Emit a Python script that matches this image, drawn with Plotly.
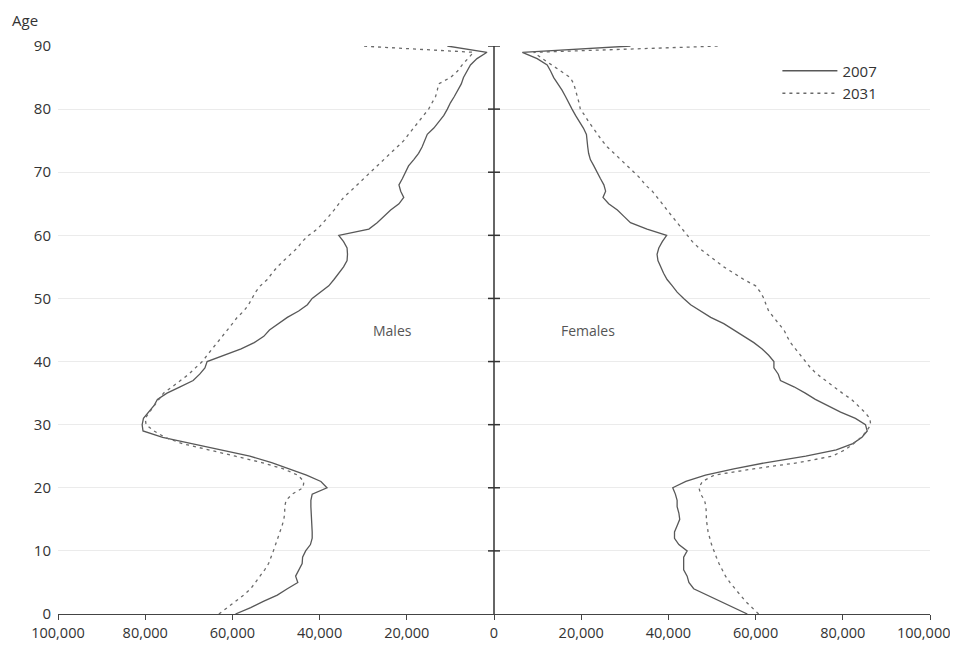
import numpy as np
import plotly.graph_objects as go

# ---------------- data (population in thousands, by single year of age) ----------------
ages = list(range(0, 91))

males_2007 = [59.3, 55.8, 52.9, 49.7, 47.4, 45.0, 45.5, 44.7, 44.0, 43.9,
              43.2, 42.1, 41.7, 41.7, 41.8, 41.9, 42.0, 42.0, 42.0, 41.7,
              38.3, 39.7, 43.0, 46.8, 51.0, 56.0, 62.5, 69.0, 76.0, 80.5,
              80.7, 80.4, 79.2, 78.0, 77.2, 75.0, 72.0, 69.0, 67.5, 66.3,
              65.8, 62.0, 58.0, 55.0, 52.8, 51.5, 49.5, 47.4, 44.8, 42.8,
              41.7, 39.8, 37.9, 36.7, 35.6, 34.5, 33.7, 33.6, 33.7, 34.5,
              35.6, 28.7, 26.8, 25.3, 23.7, 21.8, 20.7, 21.4, 21.8, 21.0,
              20.3, 19.6, 18.4, 17.3, 16.5, 15.9, 15.3, 13.8, 12.7, 11.5,
              10.7, 10.0, 9.1, 8.3, 7.5, 7.0, 6.1, 5.4, 3.9, 1.6,
              10.7]

males_2031 = [63.1, 61.2, 59.3, 57.4, 55.8, 54.7, 53.6, 52.6, 51.7, 51.1,
              50.6, 50.1, 49.6, 49.0, 48.6, 48.2, 48.0, 48.0, 47.7, 46.3,
              43.8, 43.6, 45.0, 48.3, 53.3, 59.3, 65.5, 71.5, 75.5, 78.0,
              79.8, 80.0, 79.0, 77.9, 76.9, 75.8, 73.8, 71.9, 70.0, 68.5,
              66.9, 65.8, 64.6, 63.5, 62.3, 61.2, 60.0, 58.9, 57.4, 56.3,
              55.5, 54.7, 53.6, 52.0, 50.9, 49.7, 48.2, 46.7, 45.1, 44.0,
              42.5, 40.5, 39.1, 37.9, 36.7, 35.6, 34.5, 32.9, 31.4, 29.9,
              28.3, 26.8, 25.3, 23.7, 22.2, 20.7, 19.6, 18.4, 17.3, 16.1,
              15.0, 14.2, 13.4, 13.0, 12.7, 10.0, 8.4, 7.3, 6.1, 4.7,
              30.6]

females_2007 = [58.1, 55.0, 52.0, 48.9, 45.8, 44.7, 44.3, 43.5, 43.5, 43.5,
                44.3, 42.4, 41.4, 41.4, 42.0, 42.6, 42.4, 42.0, 42.0, 41.6,
                41.0, 44.0, 48.5, 55.0, 62.5, 71.5, 78.5, 82.3, 84.4, 85.6,
                85.2, 82.9, 79.5, 76.4, 73.7, 71.4, 68.8, 65.7, 65.2, 64.2,
                64.2, 63.0, 61.5, 59.6, 57.3, 55.3, 52.7, 49.7, 47.4, 45.1,
                43.5, 42.0, 40.9, 39.7, 38.9, 38.2, 37.6, 37.4, 37.8, 38.6,
                39.6, 35.1, 31.3, 29.8, 28.3, 26.3, 25.0, 25.6, 25.2, 24.4,
                23.7, 22.9, 22.1, 21.7, 21.5, 21.4, 21.2, 20.5, 19.5, 18.7,
                17.9, 17.2, 16.4, 15.6, 14.6, 13.7, 13.0, 12.2, 9.9, 6.5,
                31.3]

females_2031 = [60.7, 59.2, 57.7, 56.5, 55.2, 54.1, 53.1, 52.3, 51.6, 51.0,
                50.4, 49.9, 49.5, 49.1, 48.9, 48.7, 48.7, 48.6, 48.3, 47.4,
                47.0, 47.8, 50.5, 59.5, 70.0, 77.5, 80.5, 82.5, 84.2, 85.5,
                86.4, 86.2, 85.0, 83.6, 82.0, 79.9, 77.9, 76.0, 74.1, 72.6,
                71.4, 70.3, 69.2, 68.0, 67.2, 66.5, 65.3, 64.2, 63.0, 62.4,
                61.9, 61.1, 60.0, 57.3, 55.0, 52.7, 50.8, 48.9, 47.0, 45.5,
                44.3, 43.2, 42.0, 40.9, 39.7, 38.6, 37.4, 36.3, 34.7, 33.6,
                32.1, 30.6, 29.0, 27.5, 26.0, 24.8, 23.7, 22.8, 21.7, 20.8,
                19.8, 19.5, 19.1, 18.7, 18.3, 17.5, 15.3, 13.0, 11.1, 9.1,
                52.0]

x_tick_values = [-100000, -80000, -60000, -40000, -20000, 0,
                 20000, 40000, 60000, 80000, 100000]
x_tick_labels = ["100,000", "80,000", "60,000", "40,000", "20,000", "0",
                 "20,000", "40,000", "60,000", "80,000", "100,000"]
y_tick_values = [0, 10, 20, 30, 40, 50, 60, 70, 80, 90]
series_names = ["2007", "2031"]

# ---------------- figure ----------------
FONT = "Open Sans, Noto Sans, DejaVu Sans, sans-serif"
solid = dict(color="#585858", width=1.3)
dotted = dict(color="#6a6a6a", width=1.3, dash="3px,4px")

fig = go.Figure()
m07 = -np.array(males_2007) * 1000
f07 = np.array(females_2007) * 1000
m31 = -np.array(males_2031) * 1000
f31 = np.array(females_2031) * 1000

fig.add_trace(go.Scatter(x=m07, y=ages, mode="lines", line=solid,
                         name=series_names[0], legendgroup="a"))
fig.add_trace(go.Scatter(x=f07, y=ages, mode="lines", line=solid,
                         name=series_names[0], legendgroup="a", showlegend=False))
fig.add_trace(go.Scatter(x=m31, y=ages, mode="lines", line=dotted,
                         name=series_names[1], legendgroup="b"))
fig.add_trace(go.Scatter(x=f31, y=ages, mode="lines", line=dotted,
                         name=series_names[1], legendgroup="b", showlegend=False))

# central vertical axis with tick marks
shapes = [dict(type="line", xref="x", yref="y", x0=0, x1=0, y0=0, y1=90,
               line=dict(color="#333333", width=1.5))]
for yv in y_tick_values[1:]:
    shapes.append(dict(type="line", xref="x", yref="y", xsizemode="pixel",
                       xanchor=0, x0=-6, x1=6, y0=yv, y1=yv,
                       line=dict(color="#333333", width=1.5)))

# the right-most tick label is nudged inward (as in the original) so it stays on the page
axis_ticktext = x_tick_labels[:-1] + [""]

fig.update_layout(
    width=958, height=652,
    margin=dict(l=50, r=36, t=38, b=46),
    paper_bgcolor="white", plot_bgcolor="white",
    font=dict(family=FONT, size=15, color="#333333"),
    showlegend=True,
    legend=dict(x=0.825, y=0.985, xanchor="left", yanchor="top",
                bgcolor="rgba(0,0,0,0)", borderwidth=0,
                font=dict(family=FONT, size=15, color="#333333"),
                itemwidth=55, tracegroupgap=0),
    xaxis=dict(range=[-100000, 100000], tickvals=x_tick_values,
               ticktext=axis_ticktext, showgrid=False, zeroline=False,
               showline=True, linecolor="#444444", linewidth=1.2,
               ticks="outside", ticklen=5, tickcolor="#444444", tickwidth=1.2,
               tickfont=dict(size=14.5),
               automargin=False, fixedrange=True),
    yaxis=dict(range=[0, 90], tickvals=y_tick_values, showgrid=True,
               gridcolor="#ebebeb", gridwidth=1, zeroline=False,
               showline=False, ticks="", ticklabelstandoff=6,
               automargin=False, fixedrange=True),
    shapes=shapes,
    annotations=[
        dict(text="Males", x=-23200, y=44.9, xref="x", yref="y",
             showarrow=False, font=dict(size=14, color="#555555")),
        dict(text="Females", x=21600, y=44.9, xref="x", yref="y",
             showarrow=False, font=dict(size=14, color="#555555")),
        dict(text="Age", x=0, y=1, xref="paper", yref="paper",
             xanchor="right", yanchor="top", xshift=-18, yshift=38,
             showarrow=False, font=dict(size=15, color="#333333")),
        dict(text=x_tick_labels[-1], x=x_tick_values[-1], y=0,
             xref="x", yref="paper", xanchor="center", yanchor="middle",
             xshift=-6, yshift=-18, showarrow=False,
             font=dict(size=14.5, color="#333333")),
    ],
)

fig.write_html("out.html")
